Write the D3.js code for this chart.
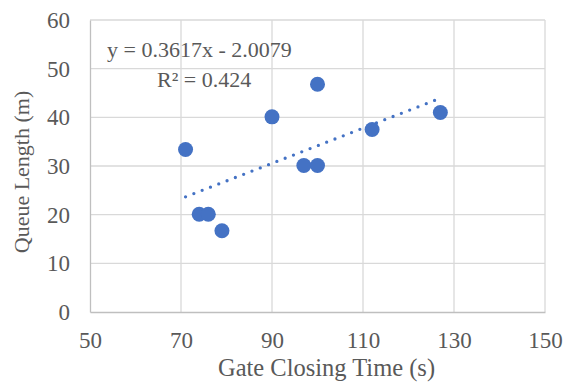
<!DOCTYPE html>
<html>
<head>
<meta charset="utf-8">
<script src="https://cdn.jsdelivr.net/npm/d3@7"></script>
<style>
  body { margin: 0; background: #fff; }
  text { font-family: "Liberation Serif", "Times New Roman", serif; fill: #595959; }
</style>
</head>
<body>
<div id="chart"></div>
<script>
// data
const gateTime = [71, 74, 76, 79, 90, 97, 100, 100, 112, 127];
const queueLength = [33.4, 20.1, 20.1, 16.7, 40.1, 30.1, 30.1, 46.8, 37.5, 41];
const xTicks = [50, 70, 90, 110, 130, 150];
const yTicks = [0, 10, 20, 30, 40, 50, 60];
const trendCoef = [0.3617, -2.0079];
const trendLabels = ["y = 0.3617x - 2.0079", "R² = 0.424"];

const W = 571, H = 383;
const margin = { top: 20, right: 26, bottom: 71, left: 90 },
  width = W - margin.left - margin.right,
  height = H - margin.top - margin.bottom;

const svg = d3
  .select("#chart")
  .append("svg")
  .attr("width", W)
  .attr("height", H);

const g = svg.append("g").attr("transform", `translate(${margin.left},${margin.top})`);

const x = d3.scaleLinear().domain([50, 150]).range([0, width]);
const y = d3.scaleLinear().domain([0, 60]).range([height, 0]);

// gridlines
g.selectAll(".vgrid")
  .data(xTicks.slice(1))
  .join("line")
  .attr("x1", d => x(d)).attr("x2", d => x(d))
  .attr("y1", 0).attr("y2", height)
  .style("stroke", "#d9d9d9").style("stroke-width", 1.3);

g.selectAll(".hgrid")
  .data(yTicks.slice(1))
  .join("line")
  .attr("x1", 0).attr("x2", width)
  .attr("y1", d => y(d)).attr("y2", d => y(d))
  .style("stroke", "#d9d9d9").style("stroke-width", 1.3);

// axes
const xAxis = g.append("g")
  .attr("transform", `translate(0,${height})`)
  .call(d3.axisBottom(x).tickValues(xTicks).tickSize(0).tickPadding(20));
const yAxis = g.append("g")
  .call(d3.axisLeft(y).tickValues(yTicks).tickSize(0).tickPadding(20));
[xAxis, yAxis].forEach(a => {
  a.select(".domain").style("stroke", "#bfbfbf").style("stroke-width", 1.3);
  a.selectAll("text").style("font-size", "23px").style("fill", "#595959")
    .style("font-family", '"Liberation Serif", serif');
});

// trendline
const xr = d3.extent(gateTime);
g.append("line")
  .attr("x1", x(xr[0])).attr("y1", y(trendCoef[0] * xr[0] + trendCoef[1]))
  .attr("x2", x(xr[1])).attr("y2", y(trendCoef[0] * xr[1] + trendCoef[1]))
  .style("stroke", "#4472c4")
  .style("stroke-width", 3.3)
  .style("stroke-linecap", "round")
  .style("stroke-dasharray", "0 8.9");

// points
g.selectAll("circle")
  .data(gateTime)
  .join("circle")
  .attr("cx", d => x(d))
  .attr("cy", (d, i) => y(queueLength[i]))
  .attr("r", 7.5)
  .style("fill", "#4472c4");

// equation label
svg.append("text").attr("x", 107).attr("y", 57)
  .style("font-size", "22px").text(trendLabels[0]);
svg.append("text").attr("x", 157).attr("y", 87)
  .style("font-size", "22px").text(trendLabels[1]);

// axis titles
svg.append("text")
  .attr("x", margin.left + width / 2 + 9).attr("y", 376)
  .style("text-anchor", "middle").style("font-size", "24.5px")
  .text("Gate Closing Time (s)");
svg.append("text")
  .attr("transform", "translate(29,172) rotate(-90)")
  .style("text-anchor", "middle").style("font-size", "22px")
  .text("Queue Length (m)");
</script>
</body>
</html>
